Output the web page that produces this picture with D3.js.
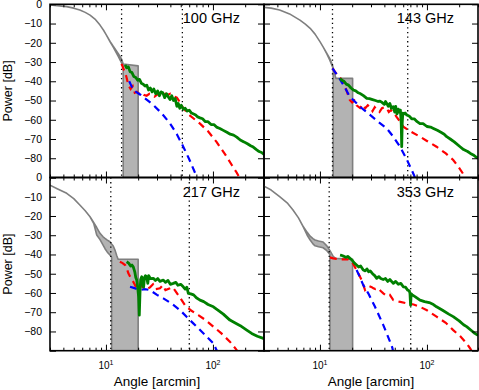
<!DOCTYPE html>
<html>
<head>
<meta charset="utf-8">
<script src="https://cdn.jsdelivr.net/npm/d3@7"></script>
<style>
  body { margin: 0; background: #fff; }
  text { font-family: "Liberation Sans", Arial, sans-serif; fill: #000; }
</style>
</head>
<body>
<div id="chart"></div>
<script>
// panel titles and the two vertical cut lines (arcmin)
var freqs = ["100 GHz", "143 GHz", "217 GHz", "353 GHz"];
var cutLines = [[14.0, 51.8], [13.1, 66.1], [11.1, 60.1], [12.2, 70.5]];

// beam band: [angle, upper dB, lower dB]
var band100 = [[3,-0.4,-0.4],[3.5,-0.7,-0.7],[4.3,-1.2,-1.2],[5,-2,-2],[5.7,-3,-3],[6.4,-4.2,-4.2],[7.1,-5.6,-5.6],[8,-8,-8],[8.8,-10.8,-10.8],[9.5,-13.5,-13.5],[10.1,-16,-16],[11,-19.5,-19.8],[11.7,-21.8,-22.3],[12.4,-23.8,-24.8],[13,-25.5,-27],[13.5,-27,-28.8],[14,-28.5,-30.5],[14.5,-31,-32],[14.5,-31,-100],[20,-32,-100],[20,-100,-100]];
var band143 = [[3,-1.6,-1.6],[3.5,-2,-2],[4.2,-3,-3],[5.2,-5,-5],[6.5,-8.2,-8.2],[7.3,-10.3,-10.3],[8.1,-12.5,-12.5],[9,-15.5,-15.5],[10,-19.4,-19.4],[10.8,-22.5,-22.5],[11.6,-25.5,-25.8],[12.3,-28,-28.8],[12.9,-30.7,-31.5],[13.3,-33,-33.5],[13.3,-33,-100],[13.7,-36,-100],[14.1,-38.5,-100],[20.2,-38.5,-100],[20.2,-100,-100]];
var band217 = [[3,-4,-4],[3.5,-5.8,-5.8],[4.3,-8.2,-8.2],[5,-11,-11],[5.7,-14.3,-14.3],[6.4,-17.3,-17.3],[7.1,-20.4,-20.4],[7.7,-23.5,-24],[8.2,-26,-29.9],[8.8,-29,-32.3],[9.4,-30.8,-35.1],[9.8,-31.6,-37],[10.3,-32.5,-38.8],[10.9,-33.4,-40.3],[11.3,-34.6,-41.5],[11.3,-34.6,-100],[11.7,-35.6,-100],[12.2,-38,-100],[12.6,-40.5,-100],[13,-42.5,-100],[20,-42.5,-100],[20,-100,-100]];
var band353 = [[3,-4.5,-4.5],[3.5,-6.5,-6.5],[4.2,-10,-10],[5,-13.5,-13.5],[5.6,-16.9,-16.9],[6.3,-21,-21],[7,-25.6,-25.8],[7.6,-28.5,-30],[8.1,-30.5,-32.5],[8.6,-31.8,-34.5],[9,-32.5,-35.5],[9.7,-33,-36],[10.7,-33.5,-36.5],[11.6,-35.5,-38],[12.4,-38,-40],[12.4,-38,-100],[13.3,-41,-100],[14,-42,-100],[20.2,-42.5,-100],[20.2,-100,-100]];

// measured profile (green), models (red, blue): [angle, dB]
var green100 = [[15.1,-31.5],[15.6,-33],[16.2,-32.5],[16.8,-35],[17.5,-35.5],[18.2,-37.5],[19,-38],[19.8,-39.5],[20.6,-39],[21.4,-41],[22.3,-41.5],[23.2,-42.5],[24.1,-42],[25,-44.5],[26,-43.5],[27,-45.5],[28,-44],[29.2,-46.5],[30.4,-45],[31.6,-47.5],[32.8,-45.5],[34,-46],[35.4,-48.5],[36.8,-46.5],[38.2,-48],[39.7,-49.5],[41.2,-47.5],[42.8,-50],[44.4,-49],[46,-53],[47.4,-51.5],[49,-54],[50.6,-52.5],[52.8,-54.5],[55,-54],[57.5,-55.5],[60,-55],[63,-56.5],[66,-57],[69,-57.5],[72,-58.5],[75.7,-59],[80,-59.5],[85,-61],[90,-61],[96,-62.5],[102,-62.5],[108,-63.8],[116,-64.5],[125,-65.5],[135,-66.5],[145,-67.5],[156,-68],[167,-69],[180,-70.5],[195,-71.5],[210,-72.5],[225,-73.5],[238,-74.2],[255,-75.5],[270,-76.5],[285,-77],[300,-78]];
var red100 = [[14,-31],[14.8,-34.5],[15.5,-37.5],[16.2,-42],[17,-44],[17.8,-42.5],[18.6,-46],[19.5,-45.5],[20.5,-46.5],[21.5,-46],[22.5,-47],[24,-47.5],[25.5,-46.5],[27,-47],[28.5,-48],[30,-47],[32,-46.5],[34,-47.5],[36,-46.5],[38,-47],[40,-46.5],[42,-47],[44,-48],[46,-48.5],[48,-50],[52.8,-54],[60,-57.5],[75.7,-62],[90,-66],[108,-71.5],[130,-78],[150,-83.5],[167,-87.5],[180,-91]];
var blue100 = [[16.5,-40],[18,-44.5],[21,-47],[24,-49.5],[27.7,-52.3],[33,-56.5],[39.7,-61.9],[46,-67.5],[52.8,-74],[60,-80.5],[70.5,-89.6],[72,-91]];

var green143 = [[15.4,-38.5],[16,-39.5],[16.8,-40],[17.6,-41.5],[18.5,-42],[19.5,-43.5],[20.5,-44.5],[21.6,-45],[22.8,-46],[24,-46.5],[25.5,-47.5],[27.4,-48.9],[29,-49],[31,-49.5],[33,-50],[35,-50.5],[36.4,-50.3],[38,-51],[40,-52],[41,-50.5],[42.1,-51.5],[43.5,-53],[45,-51.5],[46.5,-54],[48.5,-53.2],[50,-56],[51,-53],[52.5,-57],[54,-54.5],[55.5,-56],[56.5,-55],[57.5,-62],[58.1,-74],[58.7,-62],[59.5,-56.5],[61,-57],[62.5,-56.5],[64.8,-57.5],[68,-58],[72,-59.5],[76,-59.5],[81,-61],[86,-62],[92,-62],[100,-63.5],[108,-63.8],[115,-64.5],[125,-65.5],[135,-66.5],[145,-67.5],[153,-68.8],[165,-70],[180,-71.5],[204,-74],[220,-75.5],[240,-76.5],[255,-77.5],[271,-78.3],[290,-79.5],[300,-80]];
var red143 = [[13.1,-33.3],[14,-35.5],[15,-37.5],[16.5,-40.2],[17.5,-44],[19,-49.7],[20,-51],[21,-50],[22,-52.5],[23.7,-53.9],[25,-52],[26.5,-54],[28,-52.5],[29.4,-53.4],[31,-55.5],[32.5,-53.5],[33.9,-55],[36,-56],[38,-54],[40,-53.5],[42.1,-54],[44,-56],[46,-55],[48.5,-56],[52,-58.5],[56,-61],[60.1,-63.6],[70,-66],[86.1,-68.8],[100,-71],[123,-74],[150,-77.5],[176,-80.9],[200,-85],[227,-89.6],[235,-91]];
var blue143 = [[13.1,-33.3],[15,-38],[17,-43],[19,-48],[20.5,-49.7],[24,-53.5],[29.4,-57.5],[35,-61],[42.1,-64.5],[48,-68.5],[56,-74],[64,-80],[72,-86.1],[76,-89],[78,-91]];

var green217 = [[15.6,-43.8],[16.3,-44.5],[17,-46],[17.5,-45.5],[18,-46.4],[18.6,-49],[19,-52],[19.4,-53.3],[19.8,-57],[20.2,-62],[20.5,-71.5],[20.8,-60],[21.1,-53],[21.6,-51.6],[22.1,-55],[22.5,-57],[22.9,-52],[23.4,-51],[24,-51.6],[24.6,-55],[25.1,-51],[26,-52.5],[27.7,-52.4],[29,-53.5],[30.5,-52.5],[32,-54],[34.4,-53.3],[36,-54.5],[38,-53.5],[40,-55.5],[42.6,-55],[45,-54.5],[47,-56],[50,-55.5],[52.8,-56.8],[55,-58],[57,-57],[58.9,-60.2],[62,-60.5],[66,-61],[70,-62.5],[75.7,-63.7],[82,-64.5],[90,-66],[101,-67.2],[112,-69],[125,-71],[144,-74.1],[160,-75.5],[180,-77],[207,-79.3],[230,-81],[260,-82.5],[296,-83.6],[300,-84]];
var red217 = [[13.5,-43.8],[14.3,-44.5],[15.1,-45.5],[15.6,-47],[16.2,-49.8],[17,-52],[18,-54.2],[19.4,-57.6],[20.5,-58],[21.5,-56],[22.5,-57.5],[24,-58],[25.8,-57.1],[27.5,-55.5],[29,-58],[32,-57.6],[34,-56],[36,-58.5],[39.7,-57.6],[42,-57],[44,-58.5],[47.4,-61.1],[54.8,-66.3],[62,-69],[73,-71.5],[85,-74],[101,-77.5],[120,-81],[144,-85.3],[167,-89.7],[175,-91]];
var blue217 = [[16.8,-56.8],[18.5,-57.5],[20.8,-58.5],[23,-58],[25.8,-58.5],[30,-61],[34.4,-62.8],[41,-65.5],[49.2,-68.9],[57,-72.5],[65.5,-75.8],[80,-80.5],[101,-86.2],[108,-89.7],[112,-91]];

var green353 = [[15.4,-40.3],[16,-40.5],[16.8,-41],[17.5,-41.5],[18.2,-41],[19.1,-42],[20,-43],[21,-44.5],[22,-45.5],[23,-46.5],[24,-46],[25.4,-48.1],[26.5,-48.5],[27.5,-47.5],[28.5,-49],[29.5,-48.5],[31,-50],[32.5,-51],[33.9,-52.4],[35.5,-51.5],[37,-52.5],[39,-53],[41,-52.5],[43,-54],[45,-53],[48.5,-55],[51,-54],[54,-55.5],[57,-55],[60.1,-56.8],[63,-57],[66,-58.5],[68.5,-59],[69.4,-60.2],[70.3,-66.3],[71.2,-60.5],[73,-61],[78,-62],[86.1,-63.7],[95,-64.5],[105,-65],[115,-66],[123,-67.2],[140,-69],[160,-71],[176,-72.3],[200,-74.5],[220,-76.5],[235,-77.5],[260,-79.5],[280,-81],[300,-82]];
var red353 = [[12.4,-41.5],[13.3,-42],[14.5,-42.3],[16,-42.5],[17.3,-42.5],[18.4,-42.5],[19.5,-43.5],[20.5,-45],[22,-48.1],[23.2,-50.5],[24.5,-53.3],[25.5,-56],[26.4,-58.5],[27.5,-57.6],[29,-56.5],[30.5,-57],[31.6,-57.6],[33,-58],[35,-57.5],[37,-59],[39.1,-60.2],[42,-61.5],[45,-61],[48.5,-63.7],[55,-64.5],[64.8,-65.4],[75,-66],[86.1,-67.2],[100,-69],[123,-72.3],[150,-75.5],[176,-79.3],[205,-82.5],[235,-86.2],[255,-89],[265,-91]];
var blue353 = [[22,-48.1],[23.5,-51.5],[25.4,-55.9],[28.3,-60.2],[32.7,-67.2],[39.1,-76.7],[45.2,-85.3],[47.5,-88.5],[48.5,-91]];

var bands = [band100, band143, band217, band353];
var greens = [green100, green143, green217, green353];
var reds = [red100, red143, red217, red353];
var blues = [blue100, blue143, blue217, blue353];

var yTicks = [0, -10, -20, -30, -40, -50, -60, -70, -80, -90];
var xMajor = [10, 100];

var width = 479, height = 390;
var pw = 214, ph = 173.2;
var origins = [[50, 4.3], [264, 4.3], [50, 177.5], [264, 177.5]];

var svg = d3.select("#chart").append("svg")
    .attr("width", width)
    .attr("height", height);

svg.append("defs").append("clipPath").attr("id", "clip")
  .append("rect").attr("width", pw).attr("height", ph);

var x = d3.scaleLog().domain([3, 300]).range([0, pw]);
var y = d3.scaleLinear().domain([-90, 0]).range([ph, 0]);
var xMinor = x.ticks().filter(function(v) { return xMajor.indexOf(v) < 0; });

var area = d3.area()
  .x(function(d) { return x(d[0]); })
  .y0(function(d) { return y(d[2]); })
  .y1(function(d) { return y(d[1]); });
var line = d3.line()
  .x(function(d) { return x(d[0]); })
  .y(function(d) { return y(d[1]); });

function noDomain(a) { a.select(".domain").remove(); }

origins.forEach(function(o, i) {
  var g = svg.append("g").attr("transform", "translate(" + o[0] + "," + o[1] + ")");
  var plot = g.append("g").attr("clip-path", "url(#clip)");

  plot.append("path").datum(bands[i])
    .attr("d", area)
    .attr("fill", "#b3b3b3")
    .attr("stroke", "#7f7f7f")
    .attr("stroke-width", 1.6)
    .attr("stroke-linejoin", "round");

  cutLines[i].forEach(function(v) {
    plot.append("line")
      .attr("x1", x(v)).attr("x2", x(v))
      .attr("y1", 0).attr("y2", ph)
      .attr("stroke", "#000")
      .attr("stroke-width", 1.3)
      .attr("stroke-dasharray", "1.3,3.3");
  });

  plot.append("path").datum(reds[i])
    .attr("d", line).attr("fill", "none")
    .attr("stroke", "#ff0000").attr("stroke-width", 2.2)
    .attr("stroke-dasharray", "7,5");
  plot.append("path").datum(blues[i])
    .attr("d", line).attr("fill", "none")
    .attr("stroke", "#0000ff").attr("stroke-width", 2.2)
    .attr("stroke-dasharray", "7,5");
  plot.append("path").datum(greens[i])
    .attr("d", line).attr("fill", "none")
    .attr("stroke", "#008000").attr("stroke-width", 2.8)
    .attr("stroke-linejoin", "round");

  // inward ticks on all four sides
  g.append("g").attr("transform", "translate(0," + ph + ")")
    .call(d3.axisBottom(x).tickValues(xMinor).tickSize(-3).tickFormat("")).call(noDomain);
  g.append("g").attr("transform", "translate(0," + ph + ")")
    .call(d3.axisBottom(x).tickValues(xMajor).tickSize(-6).tickFormat("")).call(noDomain);
  g.append("g")
    .call(d3.axisTop(x).tickValues(xMinor).tickSize(-3).tickFormat("")).call(noDomain);
  g.append("g")
    .call(d3.axisTop(x).tickValues(xMajor).tickSize(-6).tickFormat("")).call(noDomain);

  var left = i % 2 === 0;
  var ya = g.append("g")
    .call(d3.axisLeft(y).tickValues(yTicks).tickSize(-6).tickPadding(8)
      .tickFormat(function(v) { return (left && v > -90) ? d3.format("d")(v) : ""; }))
    .call(noDomain);
  ya.selectAll("text").attr("font-size", 10.5).attr("font-family", null);
  g.append("g").attr("transform", "translate(" + pw + ",0)")
    .call(d3.axisRight(y).tickValues(yTicks).tickSize(-6).tickFormat("")).call(noDomain);
  g.selectAll(".tick line").attr("stroke", "#000").attr("stroke-width", 1);

  g.append("rect")
    .attr("width", pw).attr("height", ph)
    .attr("fill", "none").attr("stroke", "#000").attr("stroke-width", 1.6);

  g.append("text")
    .attr("x", 190).attr("y", 19)
    .attr("text-anchor", "end")
    .attr("font-size", 14.5)
    .text(freqs[i]);

  if (left) {
    g.append("text")
      .attr("transform", "translate(" + (12 - o[0]) + "," + (ph / 2) + ")rotate(-90)")
      .attr("text-anchor", "middle")
      .attr("font-size", 12.5)
      .text("Power [dB]");
  }

  if (i >= 2) {
    xMajor.forEach(function(v, k) {
      var t = g.append("text")
        .attr("x", x(v)).attr("y", ph + 18)
        .attr("text-anchor", "middle")
        .attr("font-size", 10);
      t.append("tspan").text("10");
      t.append("tspan").attr("font-size", 7).attr("dy", -4).text(String(k + 1));
    });
    g.append("text")
      .attr("x", pw / 2).attr("y", ph + 35.5)
      .attr("text-anchor", "middle")
      .attr("font-size", 13.5)
      .text("Angle [arcmin]");
  }
});
</script>
</body>
</html>
